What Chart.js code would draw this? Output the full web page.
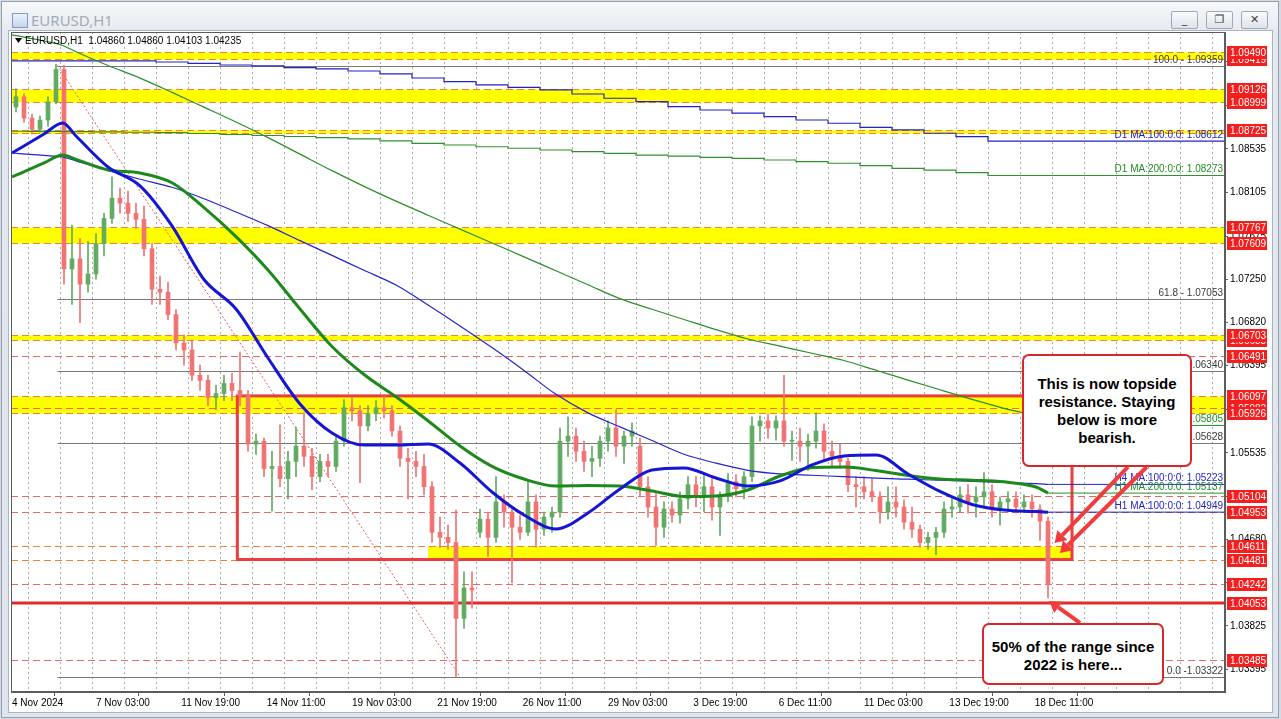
<!DOCTYPE html>
<html>
<head>
<meta charset="utf-8">
<title>EURUSD,H1</title>
<script src="https://cdn.jsdelivr.net/npm/chart.js@4.4.1/dist/chart.umd.min.js"></script>
<style>
  html, body { margin: 0; padding: 0; }
  body { width: 1281px; height: 719px; background: #d3dae4; position: relative; overflow: hidden; font-family: "Liberation Sans", Arial, sans-serif; }
  #janela { position: absolute; left: 1px; top: 1px; width: 1278px; height: 717px; background: linear-gradient(#f6f8fa, #e4e9ef 32px, #dfe5ec); border: 1px solid #97a1ae; box-sizing: border-box; }
  #icone { position: absolute; left: 10px; top: 11px; width: 14px; height: 13px; border: 1px solid #7d9bc0; background: linear-gradient(#eaf2fb, #c4d6ec); }
  #titulo { position: absolute; left: 29px; top: 8px; font: 15px "Noto Sans", sans-serif; color: #a3abb5; }
  #cliente { position: absolute; left: 8px; top: 30px; width: 1265px; height: 683px; background: #fff; border: 1px solid #aab3bf; box-sizing: border-box; }
  .botao { position: absolute; top: 9px; width: 27px; height: 18px; border: 1px solid #9fa9b5; border-radius: 2px; background: linear-gradient(#fafbfc, #dde3ea); box-sizing: border-box; font: 11px "DejaVu Sans", sans-serif; color: #3c3c3c; text-align: center; line-height: 16px; }
  canvas { position: absolute; left: 0; top: 0; }
  .nota { position: absolute; background: #fff; border: 2px solid #d8262a; border-radius: 7px; box-sizing: border-box; font: bold 15px "Liberation Sans", Arial, sans-serif; color: #000; text-align: center; line-height: 18px; display: flex; align-items: center; justify-content: center; }
</style>
</head>
<body>
<div id="janela">
  <div id="icone"></div>
  <div id="titulo">EURUSD,H1</div>
  <div class="botao" style="left:1169px">_</div>
  <div class="botao" style="left:1204px">&#10064;</div>
  <div class="botao" style="left:1239px">&#10005;</div>
</div>
<div id="cliente"></div>
<canvas id="grafico" width="1281" height="719"></canvas>
<div class="nota" style="left:1022px; top:354px; width:170px; height:113px;">This is now topside<br>resistance. Staying<br>below is more<br>bearish.</div>
<div class="nota" style="left:982px; top:623px; width:182px; height:62px; padding-top:4px;">50% of the range since<br>2022 is here...</div>

<script>
// Header of the chart (last hourly bar: open, high, low, close)
const SYMBOL = 'EURUSD,H1';
const headerOHLC = [1.04860, 1.04860, 1.04103, 1.04235];

// Time axis counts hourly bars from 4 Nov 2024 00:00 (weekends skipped, 24 bars per day)
const BARS_PER_DAY = 24;
const xTickBars = [12, 75, 139, 203, 267, 331, 395, 459, 523, 587, 651, 715, 779];
const xTickLabels = ['4 Nov 2024', '7 Nov 03:00', '11 Nov 19:00', '14 Nov 11:00', '19 Nov 03:00', '21 Nov 19:00',
    '26 Nov 11:00', '29 Nov 03:00', '3 Dec 19:00', '6 Dec 11:00', '11 Dec 03:00', '13 Dec 19:00', '18 Dec 11:00'];

// Price axis grid values
const yTicks = [1.09395, 1.08965, 1.08535, 1.08105, 1.07675, 1.07250, 1.06820, 1.06395,
    1.05965, 1.05535, 1.05105, 1.04680, 1.04250, 1.03825, 1.03395];

// Price candles, grouped by 6 hours
const CANDLE_HOURS = 6;
const FIRST_CANDLE_BAR = 12;
const candleOpen = [
    1.0895, 1.0905, 1.0884, 1.0873, 1.0882, 1.0900, 1.0932, 1.0735, 1.0745, 1.0720,
    1.0730, 1.0760, 1.0785, 1.0805, 1.0800, 1.0790, 1.0784, 1.0755, 1.0715, 1.0712,
    1.0690, 1.0662, 1.0655, 1.0630, 1.0625, 1.0608, 1.0612, 1.0622, 1.0615, 1.0610,
    1.0562, 1.0565, 1.0538, 1.0540, 1.0528, 1.0545, 1.0560, 1.0550, 1.0530, 1.0545,
    1.0540, 1.0565, 1.0598, 1.0595, 1.0580, 1.0592, 1.0598, 1.0595, 1.0575, 1.0548,
    1.0545, 1.0540, 1.0520, 1.0475, 1.0470, 1.0465, 1.0390, 1.0420, 1.0475, 1.0488,
    1.0470, 1.0505, 1.0495, 1.0480, 1.0475, 1.0505, 1.0478, 1.0490, 1.0495, 1.0565,
    1.0570, 1.0555, 1.0545, 1.0548, 1.0565, 1.0578, 1.0560, 1.0570, 1.0560, 1.0520,
    1.0500, 1.0480, 1.0498, 1.0492, 1.0508, 1.0522, 1.0510, 1.0520, 1.0500, 1.0510,
    1.0525, 1.0518, 1.0530, 1.0580, 1.0585, 1.0578, 1.0585, 1.0565, 1.0565, 1.0560,
    1.0565, 1.0575, 1.0555, 1.0550, 1.0545, 1.0522, 1.0520, 1.0515, 1.0510, 1.0495,
    1.0505, 1.0500, 1.0485, 1.0478, 1.0465, 1.0470, 1.0475, 1.0498, 1.0500, 1.0512,
    1.0505, 1.0510, 1.0515, 1.0498, 1.0505, 1.0508, 1.0500, 1.0505, 1.0498, 1.0486
];
const candleHigh = [
    1.0913, 1.0908, 1.0888, 1.0886, 1.0905, 1.0937, 1.0936, 1.0778, 1.0765, 1.0762,
    1.0770, 1.0790, 1.0826, 1.0815, 1.0812, 1.0800, 1.0797, 1.0760, 1.0728, 1.0722,
    1.0695, 1.0670, 1.0665, 1.0640, 1.0630, 1.0620, 1.0630, 1.0632, 1.0653, 1.0615,
    1.0572, 1.0568, 1.0555, 1.0581, 1.0555, 1.0579, 1.0593, 1.0558, 1.0552, 1.0552,
    1.0570, 1.0606, 1.0608, 1.0600, 1.0600, 1.0605, 1.0609, 1.0600, 1.0580, 1.0558,
    1.0555, 1.0552, 1.0525, 1.0490, 1.0482, 1.0497, 1.0436, 1.0436, 1.0498, 1.0495,
    1.0530, 1.0512, 1.0500, 1.0492, 1.0527, 1.0512, 1.0495, 1.0500, 1.0578, 1.0589,
    1.0578, 1.0565, 1.0560, 1.0570, 1.0585, 1.0596, 1.0575, 1.0583, 1.0568, 1.0530,
    1.0515, 1.0505, 1.0505, 1.0515, 1.0530, 1.0530, 1.0532, 1.0528, 1.0515, 1.0533,
    1.0532, 1.0535, 1.0589, 1.0590, 1.0592, 1.0590, 1.0630, 1.0575, 1.0578, 1.0572,
    1.0593, 1.0582, 1.0565, 1.0562, 1.0548, 1.0530, 1.0530, 1.0528, 1.0515, 1.0520,
    1.0520, 1.0507, 1.0500, 1.0482, 1.0475, 1.0480, 1.0505, 1.0510, 1.0520, 1.0522,
    1.0520, 1.0534, 1.0522, 1.0510, 1.0515, 1.0515, 1.0512, 1.0512, 1.0502, 1.0490
];
const candleLow = [
    1.0890, 1.0880, 1.0868, 1.0870, 1.0876, 1.0898, 1.0720, 1.0700, 1.0682, 1.0712,
    1.0725, 1.0748, 1.0780, 1.0790, 1.0782, 1.0775, 1.0748, 1.0700, 1.0700, 1.0685,
    1.0655, 1.0640, 1.0625, 1.0615, 1.0600, 1.0596, 1.0605, 1.0605, 1.0600, 1.0555,
    1.0552, 1.0530, 1.0496, 1.0520, 1.0508, 1.0530, 1.0540, 1.0517, 1.0525, 1.0530,
    1.0535, 1.0560, 1.0585, 1.0524, 1.0575, 1.0585, 1.0588, 1.0570, 1.0540, 1.0508,
    1.0530, 1.0512, 1.0465, 1.0460, 1.0458, 1.0332, 1.0380, 1.0400, 1.0470, 1.0451,
    1.0465, 1.0480, 1.0425, 1.0468, 1.0472, 1.0460, 1.0472, 1.0475, 1.0490, 1.0550,
    1.0545, 1.0535, 1.0530, 1.0540, 1.0555, 1.0550, 1.0543, 1.0560, 1.0510, 1.0490,
    1.0462, 1.0470, 1.0485, 1.0484, 1.0498, 1.0500, 1.0495, 1.0487, 1.0472, 1.0505,
    1.0510, 1.0508, 1.0525, 1.0565, 1.0568, 1.0566, 1.0560, 1.0546, 1.0545, 1.0536,
    1.0558, 1.0545, 1.0540, 1.0538, 1.0515, 1.0500, 1.0508, 1.0505, 1.0484, 1.0488,
    1.0490, 1.0478, 1.0470, 1.0460, 1.0458, 1.0453, 1.0470, 1.0490, 1.0495, 1.0494,
    1.0490, 1.0500, 1.0490, 1.0482, 1.0495, 1.0494, 1.0495, 1.0490, 1.0467, 1.04103
];
const candleClose = [
    1.0905, 1.0884, 1.0873, 1.0882, 1.0900, 1.0932, 1.0735, 1.0745, 1.0720, 1.0730,
    1.0760, 1.0785, 1.0805, 1.0800, 1.0790, 1.0784, 1.0755, 1.0715, 1.0712, 1.0690,
    1.0662, 1.0655, 1.0630, 1.0625, 1.0608, 1.0612, 1.0622, 1.0615, 1.0610, 1.0562,
    1.0565, 1.0538, 1.0540, 1.0528, 1.0545, 1.0560, 1.0550, 1.0530, 1.0545, 1.0540,
    1.0565, 1.0598, 1.0595, 1.0580, 1.0592, 1.0598, 1.0595, 1.0575, 1.0548, 1.0545,
    1.0540, 1.0520, 1.0475, 1.0470, 1.0465, 1.0390, 1.0420, 1.0418, 1.0488, 1.0470,
    1.0505, 1.0495, 1.0480, 1.0475, 1.0505, 1.0478, 1.0490, 1.0495, 1.0565, 1.0570,
    1.0555, 1.0545, 1.0548, 1.0565, 1.0578, 1.0560, 1.0570, 1.0575, 1.0520, 1.0500,
    1.0480, 1.0498, 1.0492, 1.0508, 1.0522, 1.0510, 1.0520, 1.0500, 1.0510, 1.0525,
    1.0518, 1.0530, 1.0580, 1.0585, 1.0578, 1.0585, 1.0565, 1.0565, 1.0560, 1.0565,
    1.0575, 1.0555, 1.0550, 1.0545, 1.0522, 1.0520, 1.0515, 1.0510, 1.0495, 1.0505,
    1.0500, 1.0485, 1.0478, 1.0465, 1.0470, 1.0475, 1.0498, 1.0500, 1.0512, 1.0505,
    1.0510, 1.0515, 1.0498, 1.0505, 1.0508, 1.0500, 1.0505, 1.0498, 1.0486, 1.04235
];

// Moving averages, sampled at these hourly bars
const maBars = [12, 36, 50, 60, 84, 108, 132, 156, 180, 204, 228, 252, 276, 300, 324, 348, 372, 396,
    420, 444, 468, 492, 516, 540, 564, 588, 612, 636, 660, 684, 708, 732, 756, 780, 789];
const h1Ma100 = [1.08495, 1.08683, 1.08792, 1.08663, 1.08357, 1.08170, 1.07775, 1.07246, 1.06955, 1.06471,
    1.06017, 1.05731, 1.05612, 1.05612, 1.05622, 1.05434, 1.05148, 1.04921, 1.04783, 1.04941,
    1.05178, 1.05365, 1.05385, 1.05286, 1.05207, 1.05257, 1.05415, 1.05504, 1.05514, 1.05326,
    1.05153, 1.05025, 1.04970, 1.04955, 1.04949];
const h1Ma200 = [1.08259, 1.08397, 1.08476, 1.08432, 1.08328, 1.08298, 1.08201, 1.07956, 1.07670, 1.07340,
    1.06955, 1.06585, 1.06308, 1.06088, 1.05852, 1.05602, 1.05401, 1.05276, 1.05207, 1.05212,
    1.05207, 1.05158, 1.05104, 1.05109, 1.05168, 1.05306, 1.05389, 1.05395, 1.05360, 1.05311,
    1.05276, 1.05264, 1.05248, 1.05197, 1.05137];
const h4Ma100 = [1.08495, 1.08471, 1.08456, 1.08417, 1.08323, 1.08236, 1.08157, 1.08044, 1.07913, 1.07778,
    1.07630, 1.07484, 1.07337, 1.07191, 1.06994, 1.06788, 1.06574, 1.06348, 1.06112, 1.05929,
    1.05791, 1.05656, 1.05521, 1.05433, 1.05362, 1.05327, 1.05313, 1.05299, 1.05285, 1.05274,
    1.05264, 1.05253, 1.05242, 1.05231, 1.05223];
const h4Ma200 = [1.09661, 1.09601, 1.09557, 1.09495, 1.09359, 1.09235, 1.09094, 1.08948, 1.08801, 1.08647,
    1.08484, 1.08321, 1.08166, 1.08020, 1.07881, 1.07744, 1.07607, 1.07470, 1.07332, 1.07194,
    1.07057, 1.06952, 1.06851, 1.06751, 1.06659, 1.06588, 1.06518, 1.06446, 1.06350, 1.06253,
    1.06157, 1.06063, 1.05974, 1.05887, 1.05805];

// Daily moving averages, one value per trading day (step line)
const d1Ma100 = [1.09387, 1.09404, 1.09404, 1.09404, 1.09404, 1.09404, 1.09394, 1.09381, 1.09364, 1.09355,
    1.09338, 1.09325, 1.09305, 1.09276, 1.09236, 1.09200, 1.09167, 1.09144, 1.09118, 1.09078,
    1.09036, 1.09002, 1.08953, 1.08920, 1.08888, 1.08854, 1.08821, 1.08789, 1.08749, 1.08723,
    1.08690, 1.08656, 1.08612];
const d1Ma200 = [1.08713, 1.08710, 1.08708, 1.08706, 1.08703, 1.08700, 1.08696, 1.08688, 1.08678, 1.08668,
    1.08658, 1.08647, 1.08634, 1.08614, 1.08591, 1.08574, 1.08557, 1.08542, 1.08525, 1.08508,
    1.08492, 1.08475, 1.08465, 1.08453, 1.08443, 1.08426, 1.08410, 1.08394, 1.08370, 1.08344,
    1.08327, 1.08301, 1.08273];
const maLabels = ['H1 MA:100:0:0: 1.04949', 'H1 MA:200:0:0: 1.05137', 'H4 MA:100:0:0: 1.05223',
    'H4 MA:200:0:0: 1.05805', 'D1 MA:100:0:0: 1.08612', 'D1 MA:200:0:0: 1.08273'];

// Horizontal levels drawn on the chart
const yellowZones = [[1.09419, 1.09490], [1.08999, 1.09126], [1.08690, 1.08725], [1.07609, 1.07767],
    [1.06653, 1.06703], [1.05926, 1.06097]];
const supportZone = [1.04481, 1.04611];      // yellow only between the bars below
const supportZoneBars = [324, 807];
const dashedLevels = [1.06491, 1.05982, 1.05104, 1.04953, 1.04242, 1.03485];
const midRangeLevel = 1.04053;              // 50% of the range since 2022
const rangeBoxBars = [181, 807];
const rangeBoxPrices = [1.06097, 1.04481];

// Fibonacci retracement from the high to the low
const fibBars = [46, 348];
const fibLevels = [1.09359, 1.07053, 1.06340, 1.05628, 1.03322];
const fibLabels = ['100.0 - 1.09359', '61.8 - 1.07053', '50.0 - 1.06340', '38.2 - 1.05628', '0.0 -1.03322'];

// Coloured price tags on the right axis (drawn in this order)
const priceTags = [1.09419, 1.09490, 1.09126, 1.08999, 1.08725, 1.07767, 1.07609, 1.06653, 1.06703, 1.06491,
    1.05982, 1.06097, 1.05926, 1.05104, 1.04953, 1.04611, 1.04481, 1.04242, 1.04053, 1.03485];

// Arrows of the notes: [bar, price] start -> end
const noteArrows = [
    [[849, 1.05395], [794, 1.04644]],
    [[863, 1.05395], [798, 1.04546]],
    [[813, 1.03855], [790, 1.04072]]
];

// ===== Chart =====
const X_MIN = 11.25;
const X_MAX = 921.75;
const Y_MIN = 1.03173;
const Y_MAX = 1.09690;

const BULL = '#62ab62';
const BEAR = '#f07474';

const candleBars = candleOpen.map((_, i) => FIRST_CANDLE_BAR + i * CANDLE_HOURS + CANDLE_HOURS / 2);
const lastBar = maBars[maBars.length - 1];

function candleColor(c) {
    const i = c.dataIndex;
    return candleClose[i] >= candleOpen[i] ? BULL : BEAR;
}

function maPoints(values) {
    return values.map((v, i) => ({ x: maBars[i], y: v }));
}

function dailyPoints(values) {
    const pts = values.map((v, d) => ({ x: d * BARS_PER_DAY, y: v }));
    pts.push({ x: X_MAX, y: values[values.length - 1] });
    return pts;
}

function tailPoints(values) {
    const last = values[values.length - 1];
    return [{ x: lastBar, y: last }, { x: X_MAX, y: last }];
}

function lineSet(data, color, width, extra) {
    return Object.assign({
        type: 'line', data: data, borderColor: color, borderWidth: width,
        pointRadius: 0, fill: false, order: 0, cubicInterpolationMode: 'monotone'
    }, extra || {});
}

Chart.defaults.font.family = '"Liberation Sans", Arial, sans-serif';
Chart.defaults.font.size = 10;
Chart.defaults.color = '#000';

/**
 * Objects behind the price: grid, zones, levels, fibonacci, range box
 */
const chartObjects = {
    id: 'chartObjects',
    beforeDatasetsDraw(chart) {
        const { ctx, chartArea: a, scales: { x, y } } = chart;
        const py = v => Math.round(y.getPixelForValue(v)) + 0.5;
        ctx.save();
        ctx.beginPath();
        ctx.rect(a.left, a.top, a.width, a.height);
        ctx.clip();

        // daily grid
        ctx.strokeStyle = '#ababab';
        ctx.lineWidth = 1;
        ctx.setLineDash([2, 3]);
        for (let b = BARS_PER_DAY; b < X_MAX; b += BARS_PER_DAY) {
            const px = Math.round(x.getPixelForValue(b)) + 0.5;
            ctx.beginPath(); ctx.moveTo(px, a.top); ctx.lineTo(px, a.bottom); ctx.stroke();
        }

        // yellow zones with dashed borders
        ctx.setLineDash([]);
        ctx.fillStyle = '#ffff00';
        yellowZones.forEach(z => {
            ctx.fillRect(a.left, py(z[1]), a.width, py(z[0]) - py(z[1]));
        });
        const zx1 = x.getPixelForValue(supportZoneBars[0]);
        const zx2 = x.getPixelForValue(supportZoneBars[1]);
        ctx.fillRect(zx1, py(supportZone[1]), zx2 - zx1, py(supportZone[0]) - py(supportZone[1]));

        function hLine(v, color, dash, width) {
            ctx.strokeStyle = color;
            ctx.lineWidth = width;
            ctx.setLineDash(dash);
            ctx.beginPath(); ctx.moveTo(a.left, py(v)); ctx.lineTo(a.right, py(v)); ctx.stroke();
        }
        yellowZones.concat([supportZone]).forEach(z => {
            hLine(z[0], '#f0803a', [7, 4], 1);
            hLine(z[1], '#f0803a', [7, 4], 1);
        });
        dashedLevels.forEach(v => hLine(v, '#e96868', [7, 4], 1));

        // fibonacci levels and trend line
        ctx.setLineDash([]);
        ctx.strokeStyle = '#7a7a7a';
        ctx.lineWidth = 1;
        const fx = x.getPixelForValue(fibBars[0]);
        fibLevels.forEach(v => {
            ctx.beginPath(); ctx.moveTo(fx, py(v)); ctx.lineTo(a.right, py(v)); ctx.stroke();
        });
        ctx.strokeStyle = '#e45a5a';
        ctx.setLineDash([2, 2]);
        ctx.beginPath();
        ctx.moveTo(fx, y.getPixelForValue(fibLevels[0]));
        ctx.lineTo(x.getPixelForValue(fibBars[1]), y.getPixelForValue(fibLevels[fibLevels.length - 1]));
        ctx.stroke();

        // 50% level and range box
        ctx.setLineDash([]);
        ctx.strokeStyle = '#e22a2a';
        ctx.lineWidth = 3;
        ctx.beginPath();
        ctx.moveTo(a.left, y.getPixelForValue(midRangeLevel));
        ctx.lineTo(a.right, y.getPixelForValue(midRangeLevel));
        ctx.stroke();
        ctx.strokeStyle = '#ea3d3d';
        const bx1 = x.getPixelForValue(rangeBoxBars[0]);
        const bx2 = x.getPixelForValue(rangeBoxBars[1]);
        const by1 = y.getPixelForValue(rangeBoxPrices[0]);
        const by2 = y.getPixelForValue(rangeBoxPrices[1]);
        ctx.strokeRect(bx1, by1, bx2 - bx1, by2 - by1);

        // fibonacci texts
        ctx.fillStyle = '#3a3a3a';
        ctx.font = '10px "Liberation Sans", Arial, sans-serif';
        ctx.textAlign = 'right';
        ctx.textBaseline = 'bottom';
        fibLevels.forEach((v, i) => ctx.fillText(fibLabels[i], a.right - 2, py(v) - 1));
        ctx.restore();
    },
    afterDraw(chart) {
        const { ctx, chartArea: a, scales: { x, y } } = chart;
        ctx.save();

        // indicator labels over their lines
        const maLast = [h1Ma100, h1Ma200, h4Ma100, h4Ma200, d1Ma100, d1Ma200].map(s => s[s.length - 1]);
        const maColors = ['#1c1cd0', '#228b22', '#1c1cd0', '#228b22', '#1c1cd0', '#228b22'];
        ctx.font = '10px "Liberation Sans", Arial, sans-serif';
        ctx.textAlign = 'right';
        ctx.textBaseline = 'bottom';
        maLast.forEach((v, i) => {
            ctx.fillStyle = maColors[i];
            ctx.fillText(maLabels[i], a.right - 2, y.getPixelForValue(v) - 1);
        });

        // header
        ctx.fillStyle = '#000';
        ctx.beginPath();
        ctx.moveTo(a.left + 4, a.top + 6); ctx.lineTo(a.left + 11, a.top + 6); ctx.lineTo(a.left + 7.5, a.top + 11);
        ctx.fill();
        ctx.textAlign = 'left';
        ctx.textBaseline = 'middle';
        ctx.fillText(SYMBOL + '  ' + headerOHLC.map(v => v.toFixed(5)).join(' '), a.left + 14, a.top + 9);

        // plot frame
        ctx.strokeStyle = '#5c5c5c';
        ctx.lineWidth = 1;
        ctx.strokeRect(a.left + 0.5, a.top + 0.5, a.width - 1, a.height - 1);

        // price tags
        ctx.font = '10px "Liberation Sans", Arial, sans-serif';
        priceTags.forEach(v => {
            const p = Math.round(y.getPixelForValue(v));
            ctx.fillStyle = '#f41e1e';
            ctx.fillRect(a.right + 2, p - 6, 40, 13);
            ctx.fillStyle = '#fff';
            ctx.fillText(v.toFixed(5), a.right + 5, p + 1);
        });

        // arrows of the notes
        ctx.strokeStyle = '#f03c3c';
        ctx.fillStyle = '#f03c3c';
        ctx.lineWidth = 4;
        noteArrows.forEach(([s, e]) => {
            const x1 = x.getPixelForValue(s[0]), y1 = y.getPixelForValue(s[1]);
            const x2 = x.getPixelForValue(e[0]), y2 = y.getPixelForValue(e[1]);
            const ang = Math.atan2(y2 - y1, x2 - x1);
            const hx = x2 - 11 * Math.cos(ang), hy = y2 - 11 * Math.sin(ang);
            ctx.beginPath(); ctx.moveTo(x1, y1); ctx.lineTo(hx, hy); ctx.stroke();
            ctx.beginPath();
            ctx.moveTo(x2, y2);
            ctx.lineTo(hx + 7 * Math.sin(ang), hy - 7 * Math.cos(ang));
            ctx.lineTo(hx - 7 * Math.sin(ang), hy + 7 * Math.cos(ang));
            ctx.closePath();
            ctx.fill();
        });
        ctx.restore();
    }
};

new Chart(document.getElementById('grafico'), {
    type: 'bar',
    data: {
        datasets: [
            lineSet(maPoints(h1Ma100), '#1515d6', 3),
            lineSet(maPoints(h1Ma200), '#1b8a1b', 3),
            lineSet(maPoints(h4Ma100), '#2323d0', 1.2),
            lineSet(maPoints(h4Ma200), '#2a8f2a', 1.2),
            lineSet(tailPoints(h1Ma100), '#2323d0', 1, { cubicInterpolationMode: 'default' }),
            lineSet(tailPoints(h1Ma200), '#2a8f2a', 1, { cubicInterpolationMode: 'default' }),
            lineSet(tailPoints(h4Ma100), '#2323d0', 1, { cubicInterpolationMode: 'default' }),
            lineSet(tailPoints(h4Ma200), '#2a8f2a', 1, { cubicInterpolationMode: 'default' }),
            lineSet(dailyPoints(d1Ma100), '#2323c8', 1.2, { stepped: 'after', cubicInterpolationMode: 'default' }),
            lineSet(dailyPoints(d1Ma200), '#2f922f', 1.2, { stepped: 'after', cubicInterpolationMode: 'default' }),
            {
                // candle bodies
                data: candleBars.map((b, i) => ({ x: b, y: [candleOpen[i], candleClose[i]] })),
                backgroundColor: candleColor,
                barThickness: 4,
                minBarLength: 1,
                grouped: false,
                order: 1
            },
            {
                // candle shadows
                data: candleBars.map((b, i) => ({ x: b, y: [candleLow[i], candleHigh[i]] })),
                backgroundColor: candleColor,
                barThickness: 1,
                grouped: false,
                order: 2
            }
        ]
    },
    options: {
        responsive: false,
        animation: false,
        layout: { padding: { left: 11, top: 32, right: 0, bottom: 0 } },
        plugins: { legend: { display: false }, tooltip: { enabled: false } },
        scales: {
            x: {
                type: 'linear',
                min: X_MIN,
                max: X_MAX,
                offset: false,
                afterBuildTicks: s => { s.ticks = xTickBars.map(v => ({ value: v })); },
                afterFit: s => { s.height = 27; },
                ticks: {
                    autoSkip: false, maxRotation: 0, align: 'start', padding: 1,
                    callback: (v, i) => xTickLabels[i]
                },
                grid: { drawOnChartArea: false, drawTicks: true, tickLength: 4, color: '#5c5c5c' },
                border: { display: true, color: '#5c5c5c' }
            },
            y: {
                position: 'right',
                min: Y_MIN,
                max: Y_MAX,
                afterBuildTicks: s => { s.ticks = yTicks.map(v => ({ value: v })); },
                afterFit: s => { s.width = 56; },
                ticks: { autoSkip: false, padding: 2, callback: v => v.toFixed(5) },
                grid: { drawOnChartArea: false, drawTicks: true, tickLength: 3, color: '#5c5c5c' },
                border: { display: true, color: '#5c5c5c' }
            }
        }
    },
    plugins: [chartObjects]
});
</script>
</body>
</html>
